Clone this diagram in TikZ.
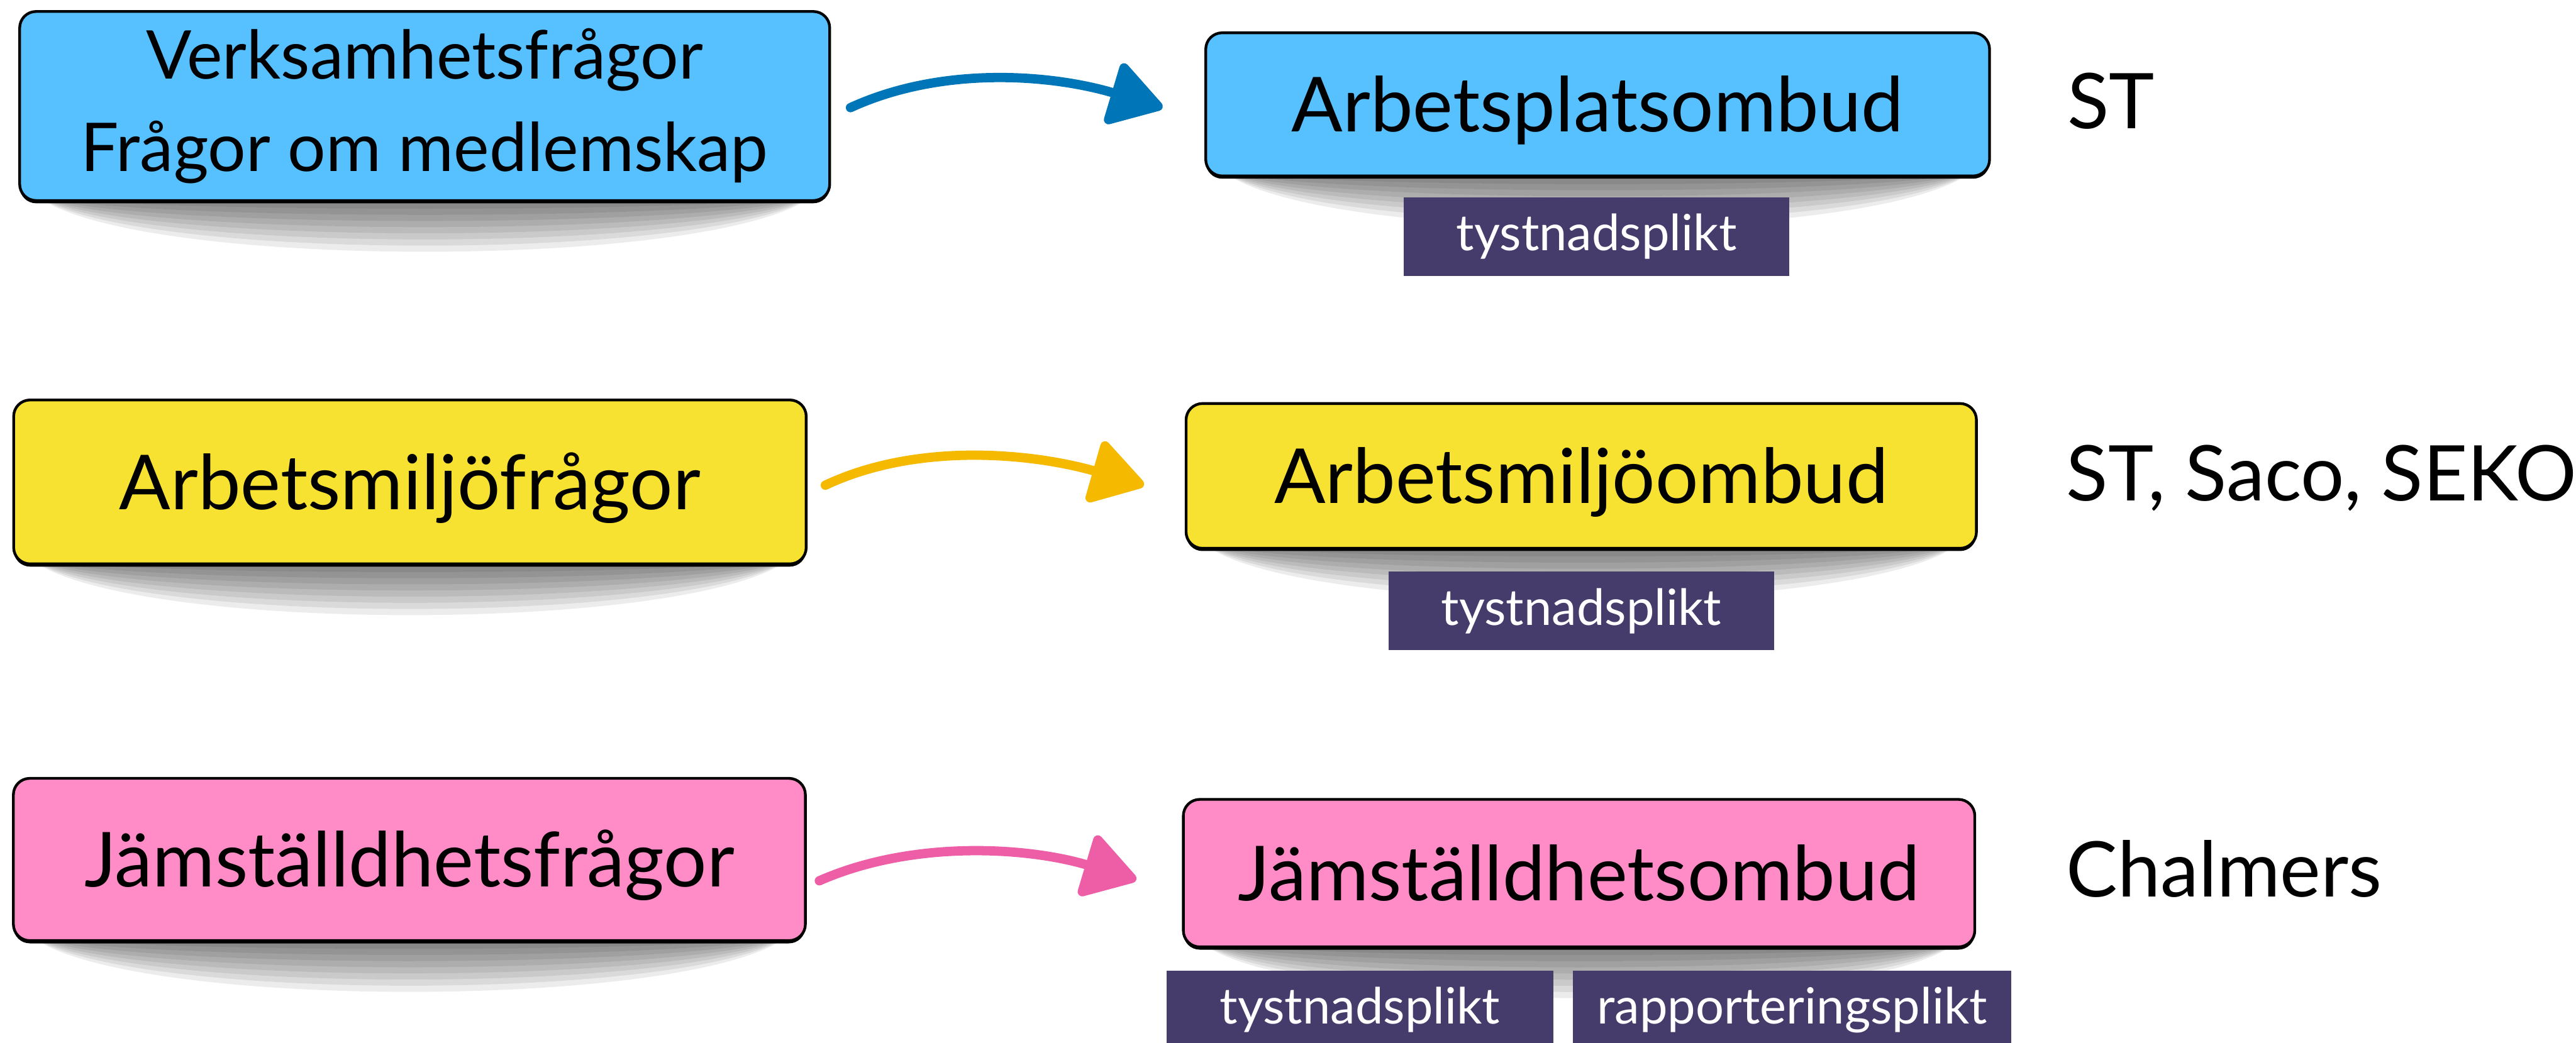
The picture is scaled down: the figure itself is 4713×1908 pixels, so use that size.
\documentclass[tikz,border=0pt]{standalone}
\usepackage{fontspec}
\setmainfont{Lato}
\usetikzlibrary{arrows.meta,shadows,calc,backgrounds}
\definecolor{boxblue}{HTML}{57C0FF}
\definecolor{boxyellow}{HTML}{F8E231}
\definecolor{boxpink}{HTML}{FF8CC6}
\definecolor{tagpurple}{HTML}{463C6C}
\definecolor{arrblue}{HTML}{0076B8}
\definecolor{arryellow}{HTML}{F5B900}
\definecolor{arrpink}{HTML}{EE5EA6}
\newcommand\lensshadow[1]{%
  \foreach \d in {30,45,...,135}{%
    \fill[black, opacity=0.075]
      ($(#1.south west)+(35,-10)$) .. controls +(180,\d) and +(-180,\d) ..
      ($(#1.south east)+(-35,-10)$) -- cycle;}}
\begin{document}
\begin{tikzpicture}[x=0.01cm,y=-0.01cm,
  sz/.style 2 args={minimum width=#1*0.01cm, minimum height=#2*0.01cm},
  topic/.style={draw=black, line width=0.05cm, rounded corners=0.3cm, inner sep=0pt,
    font=\fontsize{39.5}{46}\selectfont, text height=1.0cm, text depth=0pt,
    drop shadow={shadow xshift=0cm, shadow yshift=-0.05cm, opacity=1, fill=black}},
  duty/.style={fill=tagpurple, text=white, inner sep=0pt, font=\fontsize{26}{30}\selectfont},
  union/.style={anchor=base west, inner sep=0pt, font=\fontsize{40}{46}\selectfont},
  brush/.style={line width=0.17cm, line cap=round,
    -{Triangle[length=1.05cm, width=1.25cm, round]}}]
\useasboundingbox (0,0) rectangle (4713,1908);

% row 1
\node[topic, fill=boxblue, sz={1482}{346}, align=center, font=\fontsize{35}{48}\selectfont,
      text height=, text depth=] (L1) at (777,194) {Verksamhetsfrågor\\Frågor om medlemskap};
\node[topic, fill=boxblue, sz={1434}{262}] (R1) at (2923,191) {Arbetsplatsombud};
\node[duty, sz={706}{144}] (t1) at (2921,433) {tystnadsplikt};
\node[union] (u1) at (3782,235) {ST};
\coordinate (a1s) at (1556,197);
\coordinate (a1e) at (2127,197);
\draw[brush, arrblue] (a1s) .. controls +(170,-78) and +(-200,-60) .. (a1e);

% row 2
\node[topic, fill=boxyellow, sz={1450}{300}] (L2) at (750,882) {Arbetsmiljöfrågor};
\node[topic, fill=boxyellow, sz={1446}{265}] (R2) at (2893,871) {Arbetsmiljöombud};
\node[duty, sz={706}{144}] (t2) at (2893,1118) {tystnadsplikt};
\node[union] (u2) at (3780,917) {ST, Saco, SEKO};
\coordinate (a2s) at (1510,888);
\coordinate (a2e) at (2093,888);
\draw[brush, arryellow] (a2s) .. controls +(170,-80) and +(-202,-58) .. (a2e);

% row 3
\node[topic, fill=boxpink, sz={1449}{297}] (L3) at (749,1573) {Jämställdhetsfrågor};
\node[topic, fill=boxpink, sz={1448}{270}] (R3) at (2889,1598) {Jämställdhetsombud};
\node[duty, sz={707}{144}] (t3) at (2488,1848) {tystnadsplikt};
\node[duty, sz={802}{144}] (t4) at (3279,1848) {rapporteringsplikt};
\node[union] (u3) at (3780,1641) {Chalmers};
\coordinate (a3s) at (1499,1612);
\coordinate (a3e) at (2079,1610);
\draw[brush, arrpink] (a3s) .. controls +(170,-75) and +(-200,-60) .. (a3e);

% soft shadows under the boxes
\begin{scope}[on background layer]
  \lensshadow{L1}\lensshadow{R1}\lensshadow{L2}
  \lensshadow{R2}\lensshadow{L3}\lensshadow{R3}
\end{scope}
\end{tikzpicture}
\end{document}
